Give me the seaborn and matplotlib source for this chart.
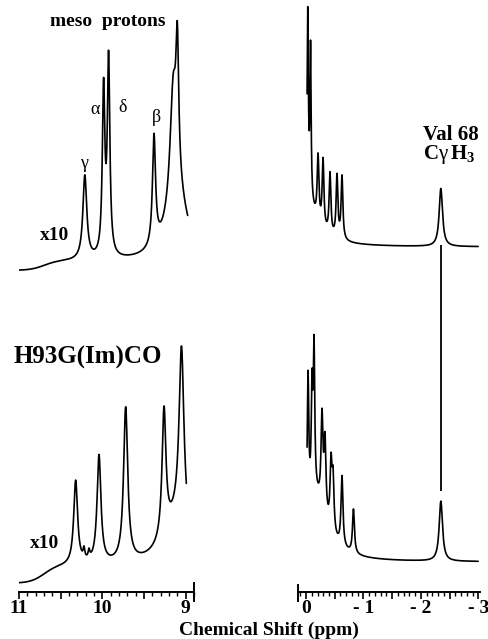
import numpy as np
import matplotlib
matplotlib.use("Agg")
import matplotlib.pyplot as plt
import seaborn as sns
from matplotlib.ticker import MultipleLocator, FuncFormatter

sns.set_style("ticks")
plt.rcParams["font.family"] = ["Liberation Serif", "DejaVu Serif"]
plt.rcParams["text.color"] = "black"
plt.rcParams["axes.edgecolor"] = "black"
plt.rcParams["xtick.color"] = "black"
plt.rcParams["mathtext.fontset"] = "custom"
plt.rcParams["mathtext.rm"] = "Liberation Serif:bold"
plt.rcParams["mathtext.it"] = "Liberation Serif"
plt.rcParams["mathtext.bf"] = "Liberation Serif:bold"

# peak tables: position (ppm), height, half width (ppm)
# heights are in plot units (the stacked traces share one vertical scale)

# low field, upper trace (meso protons, x10)
tl_pos = [10.21, 9.985, 9.925, 9.38, 9.15, 9.10, 9.10]
tl_height = [84, 165, 195, 110, 115, 128, 60]
tl_width = [0.028, 0.018, 0.018, 0.022, 0.045, 0.02, 0.15]
tl_base = [321, 9]          # floor, rise toward the 11 ppm end
tl_range = [11.01, 8.975]

# low field, lower trace H93G(Im)CO (x10)
bl_pos = [10.32, 10.22, 10.16, 10.04, 9.72, 9.26, 9.05, 9.10]
bl_height = [84, 10, 8, 108, 154, 128, 176, 45]
bl_width = [0.028, 0.012, 0.012, 0.028, 0.03, 0.028, 0.035, 0.2]
bl_base = [8, 17]
bl_range = [11.01, 8.99]

# high field, upper trace (Val 68 CgH3)
tr_pos = [0.10, -0.03, -0.078, -0.209, -0.296, -0.417, -0.539, -0.626, -2.348]
tr_height = [80, 174, 150, 65, 68, 61, 62, 63, 58]
tr_width = [0.2, 0.012, 0.012, 0.018, 0.018, 0.018, 0.018, 0.018, 0.035]
tr_base = 345
tr_range = [-0.018, -3.0]

# high field, lower trace
br_pos = [-0.14, -0.035, -0.104, -0.139, -0.278, -0.33, -0.435, -0.47, -0.626, -0.826, -2.348]
br_height = [65, 128, 100, 141, 90, 72, 64, 52, 70, 44, 60]
br_width = [0.25, 0.015, 0.015, 0.015, 0.02, 0.02, 0.02, 0.02, 0.02, 0.02, 0.035]
br_base = 30
br_range = [-0.018, -3.0]

val68_ppm = -2.348


def lorentz_sum(x, pos, height, width):
    y = np.zeros_like(x)
    for p, h, w in zip(pos, height, width):
        y += h / (1 + ((x - p) / w) ** 2)
    return y


def step_base(x, base):
    return base[0] + base[1] / (1 + np.exp((x - 10.7) / 0.08))


x_tl = np.arange(tl_range[0], tl_range[1], -0.002)
y_tl = step_base(x_tl, tl_base) + lorentz_sum(x_tl, tl_pos, tl_height, tl_width)
x_bl = np.arange(bl_range[0], bl_range[1], -0.002)
y_bl = step_base(x_bl, bl_base) + lorentz_sum(x_bl, bl_pos, bl_height, bl_width)
x_tr = np.arange(tr_range[0], tr_range[1], -0.002)
y_tr = tr_base + lorentz_sum(x_tr, tr_pos, tr_height, tr_width)
x_br = np.arange(br_range[0], br_range[1], -0.002)
y_br = br_base + lorentz_sum(x_br, br_pos, br_height, br_width)

fig = plt.figure(figsize=(4.88, 6.39), dpi=100)
ax_l = fig.add_axes([19 / 488, 47 / 639, 175 / 488, 592 / 639])
ax_r = fig.add_axes([298 / 488, 47 / 639, 182 / 488, 592 / 639])


def tick_label(v, p):
    if abs(v - round(v)) > 1e-6:
        return ""
    n = int(round(v))
    return "- %d" % abs(n) if n < 0 else "%d" % n


for ax, traces in [(ax_l, [(x_tl, y_tl), (x_bl, y_bl)]),
                   (ax_r, [(x_tr, y_tr), (x_br, y_br)])]:
    for xs, ys in traces:
        sns.lineplot(x=xs, y=ys, ax=ax, color="black", linewidth=1.2,
                     estimator=None, sort=False)
    ax.set_ylim(0, 592)
    ax.set_yticks([])
    ax.set_ylabel("")
    ax.patch.set_alpha(0)
    for s in ["top", "left", "right"]:
        ax.spines[s].set_visible(False)
    ax.spines["bottom"].set_linewidth(1.4)
    ax.xaxis.set_major_locator(MultipleLocator(0.5))
    ax.xaxis.set_minor_locator(MultipleLocator(0.1))
    ax.xaxis.set_major_formatter(FuncFormatter(tick_label))
    ax.tick_params(axis="x", which="major", length=5, width=1.2, pad=1,
                   direction="out", labelsize=14)
    ax.tick_params(axis="x", which="minor", length=3, width=1.0, direction="out")
    for lab in ax.get_xticklabels():
        lab.set_fontweight("bold")

ax_l.set_xlim(11.0, 8.9)
ax_r.set_xlim(0.14, -3.03)

# tall end marks on the scale bars
ax_l.spines["right"].set_visible(True)
ax_l.spines["right"].set_bounds(-9, 9)
ax_l.spines["right"].set_linewidth(1.4)
ax_r.spines["left"].set_visible(True)
ax_r.spines["left"].set_bounds(-9, 7)
ax_r.spines["left"].set_linewidth(1.4)

# line joining the Val 68 methyl peaks
i_val = np.argmin(np.abs(x_br - val68_ppm))
ax_r.vlines(val68_ppm, y_br[i_val] + 10, tr_base + 2, color="black", linewidth=1.3)

bold = dict(fontweight="bold", ha="center", va="center")
ax_l.text(9.93, 571, "meso  protons", fontsize=14, **bold)
ax_l.text(10.57, 357, "x10", fontsize=14, **bold)
ax_l.text(10.69, 49, "x10", fontsize=14, **bold)
ax_l.text(10.17, 235, "H93G(Im)CO", fontsize=18, **bold)
for g, gx, gy in [("γ", 10.22, 429), ("α", 10.09, 482), ("δ", 9.755, 484), ("β", 9.35, 474)]:
    ax_l.text(gx, gy, g, fontsize=13, ha="center", va="center")

ax_r.text(-2.035, 457, "Val 68", fontsize=15, fontweight="bold", ha="left", va="center")
ax_r.text(-2.035, 437, r"C$\gamma\,$H$_3$", fontsize=15, fontweight="bold",
          ha="left", va="center")

fig.text(269 / 488, 1 - 630 / 639, "Chemical Shift (ppm)", fontsize=14,
         fontweight="bold", ha="center", va="center")

fig.savefig("out.png", dpi=100)
